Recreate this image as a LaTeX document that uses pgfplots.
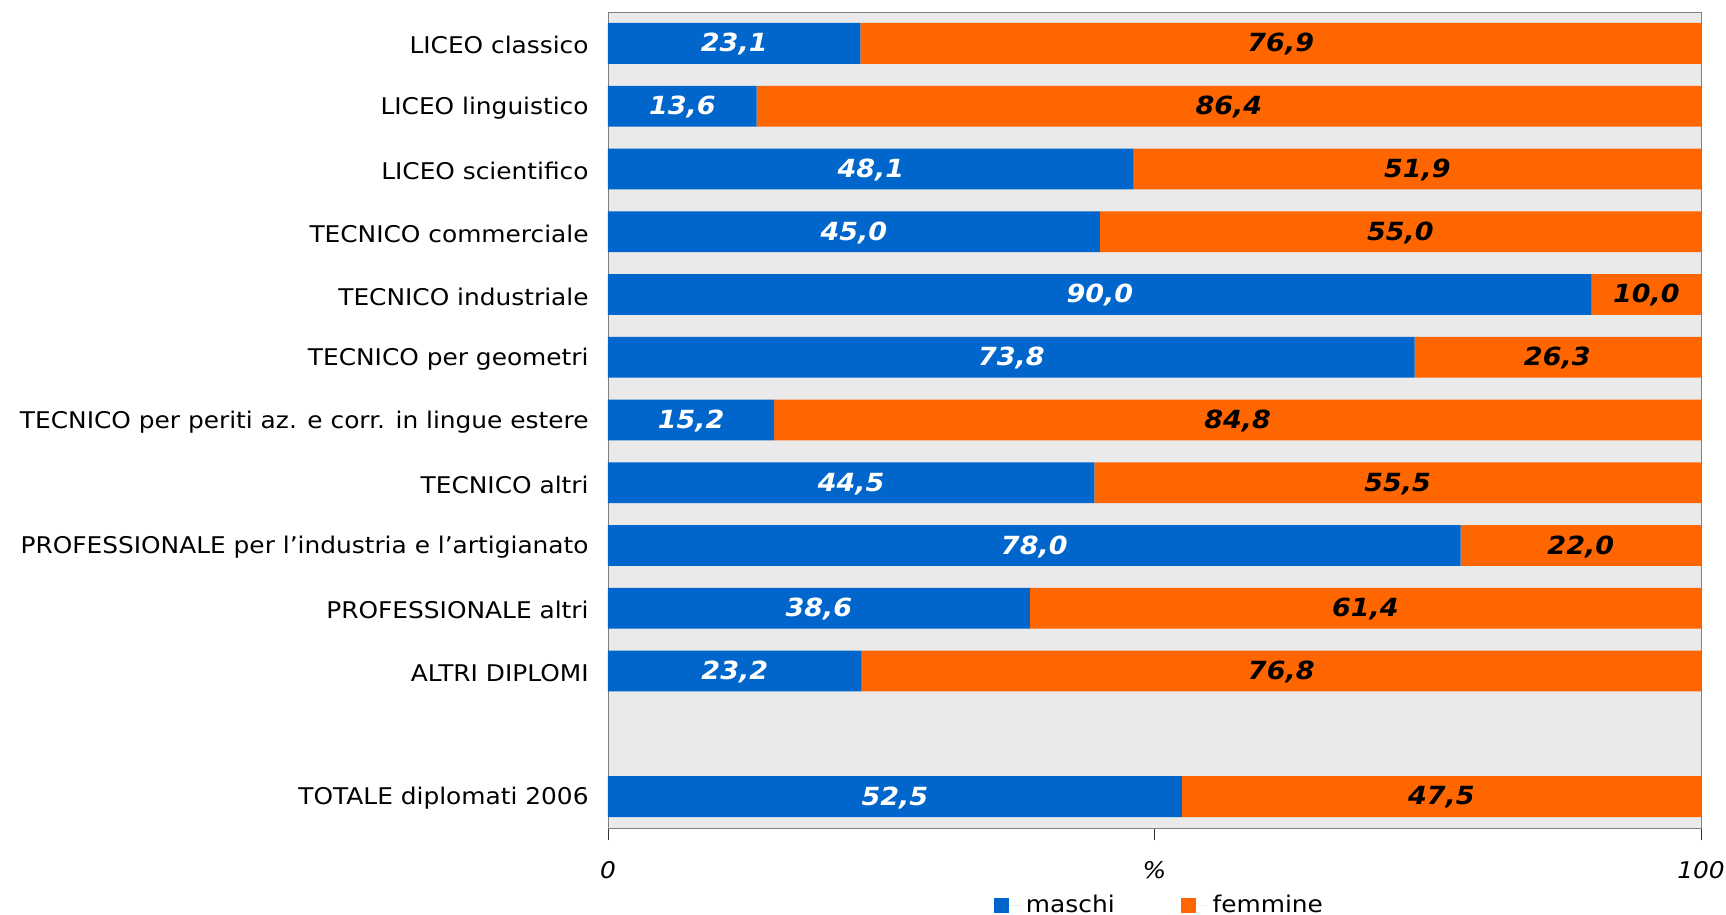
\documentclass[border=0pt]{standalone}
\usepackage{fontspec}
\setmainfont{DejaVu Sans}[FakeStretch=1.08]
\usepackage{pgfplots}
\usepackage{pgfplotstable}
\pgfplotsset{compat=1.18}
\definecolor{mblue}{HTML}{0066CC}
\definecolor{forange}{HTML}{FF6600}
\definecolor{bggray}{HTML}{EAEAEA}
\definecolor{framegray}{HTML}{808080}

\pgfplotstableread{
y m f
0 23.1 76.9
1 13.6 86.4
2 48.1 51.9
3 45.0 55.0
4 90.0 10.0
5 73.8 26.3
6 15.2 84.8
7 44.5 55.5
8 78.0 22.0
9 38.6 61.4
10 23.2 76.8
12 52.5 47.5
}\datatable

\begin{document}
\begin{tikzpicture}
\pgfplotsset{common/.style={scale only axis, width=546.5pt, height=408pt,
  xmin=0, xmax=100, ymin=-0.5, ymax=12.5, y dir=reverse,
  at={(0,0)}, anchor=south west}}
\begin{axis}[common, xbar stacked, bar width=0.65,
  axis background/.style={fill=bggray},
  axis line style={framegray},
  ytick={0,1,2,3,4,5,6,7,8,9,10,12},
  yticklabels={LICEO classico, LICEO linguistico, LICEO scientifico, TECNICO commerciale, TECNICO industriale, TECNICO per geometri, TECNICO per periti az. e corr. in lingue estere, TECNICO altri, PROFESSIONALE per l’industria e l’artigianato, PROFESSIONALE altri, ALTRI DIPLOMI, TOTALE diplomati 2006},
  ytick style={draw=none},
  yticklabel style={font=\fontsize{11.5}{14}\selectfont, inner sep=0pt, xshift=-3.5pt, yshift=-1pt},
  xtick={0,50,100}, xticklabels={0,\%,100},
  xtick pos=bottom,
  tick align=outside, major tick length=6pt,
  xtick style={black!80},
  xticklabel style={font=\fontsize{11.5}{14}\selectfont\itshape, yshift=-7pt},
  legend style={at={(0.5,0)}, anchor=center, yshift=-38.5pt, xshift=3pt, draw=none, fill=none,
    legend columns=2, font=\fontsize{11.5}{14}\selectfont,
    /tikz/every even column/.append style={column sep=31pt}},
  legend image code/.code={\fill[#1] (0pt,-3.75pt) rectangle (7.5pt,3.75pt);\path (0pt,0pt) -- (14pt,0pt);},
  ]
\addplot[fill=mblue, draw=none] table[x=m, y=y]{\datatable};
\addplot[fill=forange, draw=none] table[x=f, y=y]{\datatable};
\legend{maschi, femmine}
\end{axis}
\begin{axis}[common, hide axis,
  /pgf/number format/.cd, use comma, fixed, fixed zerofill, precision=1, assume math mode=true]
\addplot[draw=none, mark=none, nodes near coords, point meta=explicit,
  nodes near coords style={anchor=center, white, yshift=-0.5pt, font=\fontsize{12.5}{15}\selectfont\bfseries\itshape}]
  table[x expr=\thisrow{m}/2, y=y, meta=m]{\datatable};
\addplot[draw=none, mark=none, nodes near coords, point meta=explicit,
  nodes near coords style={anchor=center, black, yshift=-0.5pt, font=\fontsize{12.5}{15}\selectfont\bfseries\itshape}]
  table[x expr={min(\thisrow{m}+\thisrow{f}/2, 100-\thisrow{f}/2)}, y=y, meta=f]{\datatable};
\end{axis}
\pgfresetboundingbox
\path[use as bounding box] (-304pt,-43.5pt) rectangle (559pt,414pt);
\end{tikzpicture}
\end{document}
